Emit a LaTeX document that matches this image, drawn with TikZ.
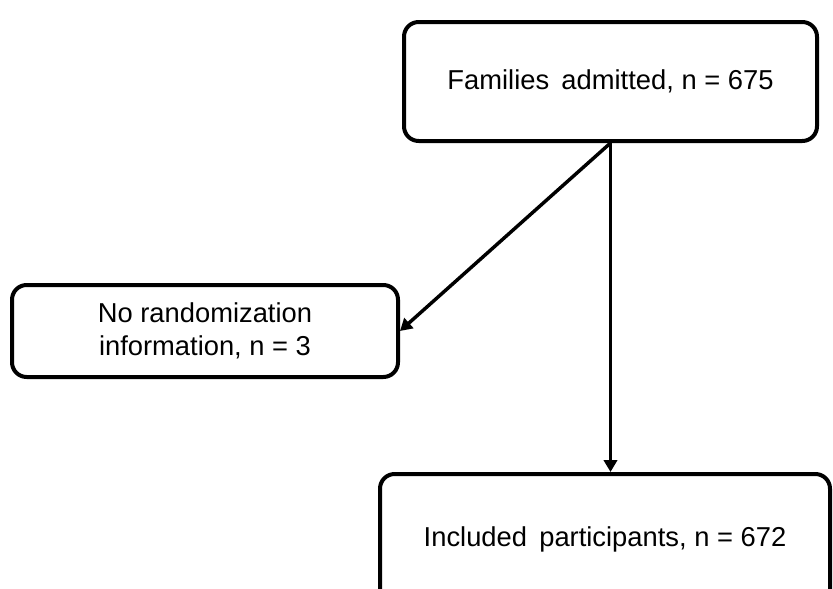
\documentclass[tikz,border=0pt]{standalone}
\usepackage{fontspec}
\setmainfont{Liberation Sans}
\usetikzlibrary{arrows.meta}
\newcommand{\widegap}{\hspace{0.45em}}
\begin{document}
\begin{tikzpicture}[x=0.75pt,y=-0.75pt,
  flowbox/.style={draw=black, line width=3pt, rounded corners=11pt, fill=white,
    align=center, inner sep=0pt, font=\fontsize{20.5}{24.5}\selectfont},
  flowarrow/.style={line width=2.6pt, -{Triangle[length=9pt,width=10pt]}}]
  \useasboundingbox (0,0) rectangle (833,589);
  \clip (0,0) rectangle (833,589);
  \node[flowbox, minimum width=413*0.75pt, minimum height=119*0.75pt] (admitted) at (610.5,81.5)
    {Families\widegap admitted, n = 675};
  \node[flowbox, minimum width=386*0.75pt, minimum height=92*0.75pt] (norand) at (205,331)
    {No randomization\\information, n = 3};
  \node[flowbox, minimum width=450*0.75pt, minimum height=130*0.75pt] (included) at (605,539)
    {Included\widegap participants, n = 672};
  \draw[flowarrow] (admitted.south) -- (norand.east);
  \draw[flowarrow] (admitted.south) -- (admitted.south |- included.north);
\end{tikzpicture}
\end{document}
